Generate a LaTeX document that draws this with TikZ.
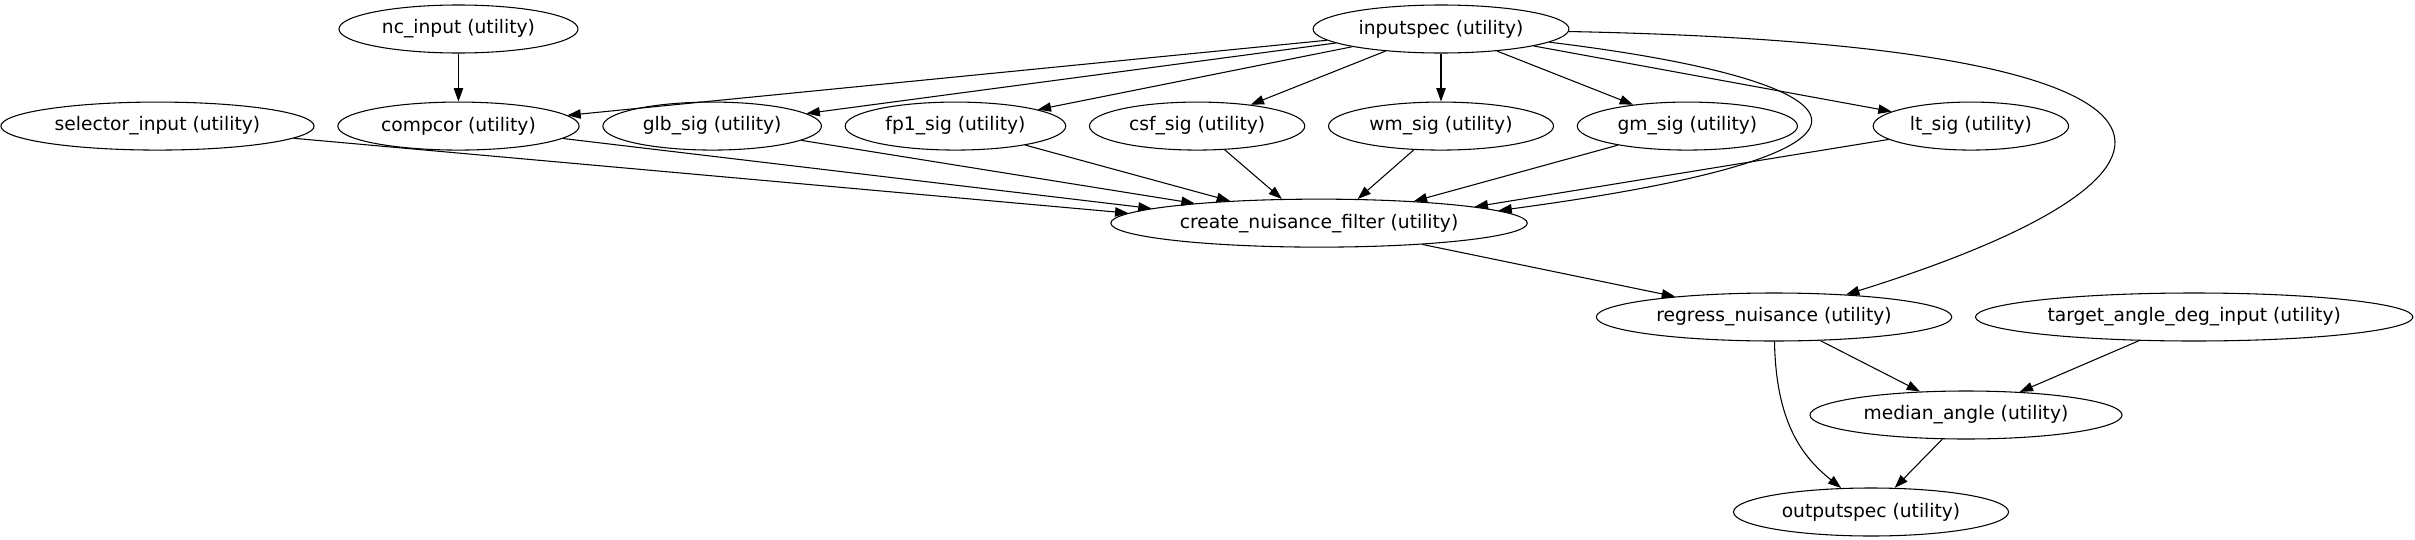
\documentclass[tikz,border=0pt]{standalone}
\usepackage{fontspec}
\setmainfont{DejaVu Sans}
\usetikzlibrary{positioning,shapes.geometric,arrows.meta,calc}

\begin{document}
\begin{tikzpicture}[x=0.75pt, y=-0.75pt, node distance=36pt and 17pt, line width=0.8pt,
    >={Triangle[length=10pt,width=7pt]},
    util/.style={draw, ellipse, minimum height=36pt, inner xsep=6pt, inner ysep=2pt,
      font=\fontsize{14}{17}\selectfont}]
  \useasboundingbox (0,0) rectangle (2415,539);

  \node[util] (Input) at (1441,29) {inputspec (utility)};
  \node[util, below=of Input] (Wm) {wm\_sig (utility)};
  \node[util, left=of Wm] (Csf) {csf\_sig (utility)};
  \node[util, left=of Csf] (Fp1) {fp1\_sig (utility)};
  \node[util, left=of Fp1] (Glb) {glb\_sig (utility)};
  \node[util, left=of Glb] (Compcor) {compcor (utility)};
  \node[util, left=of Compcor] (Selector) {selector\_input (utility)};
  \node[util, above=of Compcor] (NcIn) {nc\_input (utility)};
  \node[util, right=of Wm] (Gm) {gm\_sig (utility)};
  \node[util, right=56pt of Gm] (Lt) {lt\_sig (utility)};
  \node[util, below=36pt of $(Csf.south)!0.5!(Wm.south)$] (Filter) {create\_nuisance\_filter (utility)};

  \node[util] (Regress) at (1774,317) {regress\_nuisance (utility)};
  \node[util, right=of Regress] (Target) {target\_angle\_deg\_input (utility)};
  \node[util] (Median) at (1966,415) {median\_angle (utility)};
  \node[util] (Output) at (1871,512) {outputspec (utility)};

  % inputs of the signal nodes
  \draw[->] (NcIn) -- (Compcor);
  \draw[->] (Input) -- (Compcor);
  \draw[->] (Input) -- (Glb);
  \draw[->] (Input) -- (Fp1);
  \draw[->] (Input) -- (Csf);
  \draw[->] (Input) -- (Wm);
  \draw[->] (Input) -- (Gm);
  \draw[->] (Input) -- (Lt);
  \draw[->] (Input) .. controls (1860,80) and (1950,150) .. (Filter.4);
  \draw[->] (Input) .. controls (2250,45) and (2230,175) .. (Regress);

  % into the filter
  \draw[->] (Selector) -- (Filter.177);
  \draw[->] (Compcor) -- (Filter.175);
  \draw[->] (Glb) -- (Filter.171);
  \draw[->] (Fp1) -- (Filter.166);
  \draw[->] (Csf) -- (Filter.147);
  \draw[->] (Wm) -- (Filter.32);
  \draw[->] (Gm) -- (Filter.13);
  \draw[->] (Lt) -- (Filter.6);

  \draw[->] (Filter) -- (Regress);
  \draw[->] (Regress) -- (Median);
  \draw[->] (Target) -- (Median);
  \draw[->] (Regress) .. controls (1776,420) and (1800,455) .. (Output);
  \draw[->] (Median) -- (Output);
\end{tikzpicture}
\end{document}
